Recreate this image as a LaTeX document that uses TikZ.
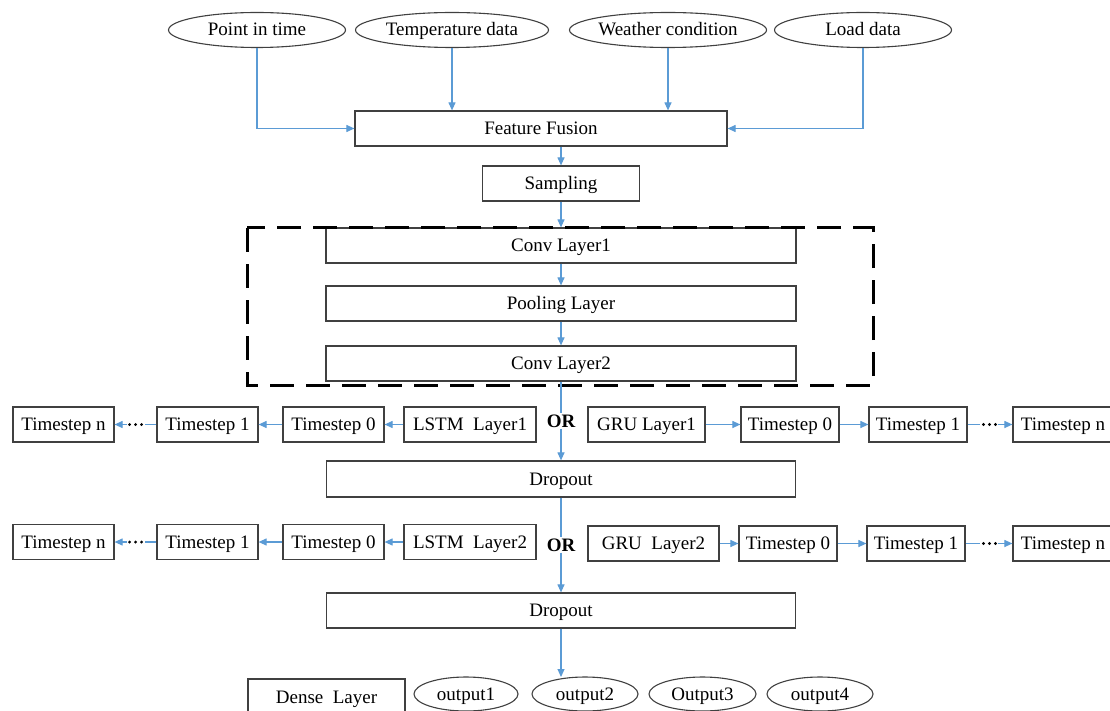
\documentclass[tikz,border=0pt]{standalone}
\usepackage{fontspec}
\setmainfont{Liberation Serif}
\usetikzlibrary{shapes.geometric,arrows.meta,calc}
\definecolor{conn}{RGB}{91,155,213}
\definecolor{edgec}{RGB}{64,64,64}
\begin{document}
\begin{tikzpicture}[x=1pt,y=-1pt,
  font=\fontsize{19}{22}\selectfont,
  bx/.style={draw=edgec, line width=1.2pt, rectangle, inner sep=0pt, minimum height=35pt, text=black, text height=15pt, text depth=3pt},
  el/.style={draw=edgec, line width=1.1pt, ellipse, inner sep=0pt, minimum height=35pt, text=black, text height=15pt, text depth=3pt},
  arr/.style={draw=conn, line width=1.1pt, -{Triangle[length=8pt,width=7pt]}},
  ln/.style={draw=conn, line width=1.1pt},
  ortext/.style={font=\fontsize{19}{22}\selectfont\bfseries, inner sep=1pt},
  dots/.style={fill=black},
  dashbox/.style={draw=black, line width=3pt, dash pattern=on 24pt off 12pt}]
\clip (0,0) rectangle (1110,711);
\fill[white] (0,0) rectangle (1110,711);

% inputs
\node[el, minimum width=177pt] (pit) at (257,30) {Point in time};
\node[el, minimum width=193pt] (tmp) at (452,30) {Temperature data};
\node[el, minimum width=195pt] (wea) at (668,30) {Weather condition};
\node[el, minimum width=177pt] (lod) at (863,30) {Load data};

\node[bx, minimum width=372pt] (ff) at (541,128.5) {Feature Fusion};
\node[bx, minimum width=157pt] (smp) at (561,183.5) {Sampling};

% CNN block
\node[bx, minimum width=470pt] (c1) at (561,245.5) {Conv Layer1};
\node[bx, minimum width=470pt] (pl) at (561,303.5) {Pooling Layer};
\node[bx, minimum width=470pt] (c2) at (561,363.5) {Conv Layer2};
\draw[dashbox] (247,228) rectangle (873,385);

% row 1
\node[bx, minimum width=101pt] (ltn) at (63.5,424.5) {Timestep n};
\node[bx, minimum width=101pt] (lt1) at (207.5,424.5) {Timestep 1};
\node[bx, minimum width=101pt] (lt0) at (333.5,424.5) {Timestep 0};
\node[bx, minimum width=132pt] (lstm1) at (470,424.5) {LSTM~ Layer1};
\node[ortext] (or1) at (561,421) {OR};
\node[bx, minimum width=117pt] (gru1) at (646.5,424.5) {GRU Layer1};
\node[bx, minimum width=98pt] (rt0) at (790,424.5) {Timestep 0};
\node[bx, minimum width=98pt] (rt1) at (918,424.5) {Timestep 1};
\node[bx, minimum width=100pt] (rtn) at (1063,424.5) {Timestep n};

\node[bx, minimum width=469pt, minimum height=36pt] (dr1) at (561,479) {Dropout};

% row 2
\node[bx, minimum width=101pt] (ltnb) at (63.5,542) {Timestep n};
\node[bx, minimum width=101pt] (lt1b) at (207.5,542) {Timestep 1};
\node[bx, minimum width=101pt] (lt0b) at (333.5,542) {Timestep 0};
\node[bx, minimum width=132pt] (lstm2) at (470,542) {LSTM~ Layer2};
\node[ortext] (or2) at (561,545) {OR};
\node[bx, minimum width=131pt] (gru2) at (653.5,543.5) {GRU~ Layer2};
\node[bx, minimum width=98pt] (rt0b) at (788,543.5) {Timestep 0};
\node[bx, minimum width=98pt] (rt1b) at (916,543.5) {Timestep 1};
\node[bx, minimum width=100pt] (rtnb) at (1063,543.5) {Timestep n};

\node[bx, minimum width=469pt] (dr2) at (561,610.5) {Dropout};

% outputs
\node[bx, minimum width=157pt, minimum height=36pt] (dense) at (326.5,697) {Dense~ Layer};
\node[el, minimum width=104pt, minimum height=34pt] (o1) at (466,694) {output1};
\node[el, minimum width=106pt, minimum height=34pt] (o2) at (585,694) {output2};
\node[el, minimum width=107pt, minimum height=34pt] (o3) at (702.5,694) {Output3};
\node[el, minimum width=106pt, minimum height=34pt] (o4) at (820,694) {output4};
\coordinate (oend) at (561,677);

% connectors: inputs
\draw[arr] (pit.south) |- (ff.west);
\draw[arr] (tmp.south) -- (tmp.south |- ff.north);
\draw[arr] (wea.south) -- (wea.south |- ff.north);
\draw[arr] (lod.south) |- (ff.east);
\draw[arr] (smp.north |- ff.south) -- (smp.north);
\draw[arr] (smp.south) -- (c1.north);
\draw[arr] (c1.south) -- (pl.north);
\draw[arr] (pl.south) -- (c2.north);
\draw[ln] (c2.south) -- (or1.north);
\draw[arr] (or1.south) -- (dr1.north);
\draw[ln] (dr1.south) -- (or2.north);
\draw[arr] (or2.south) -- (dr2.north);
\draw[arr] (dr2.south) -- (oend);

% row 1 chains
\draw[arr] (lstm1.west) -- (lt0.east);
\draw[arr] (lt0.west) -- (lt1.east);
\draw[arr] (lt1.west) -- (ltn.east);
\draw[arr] (gru1.east) -- (rt0.west);
\draw[arr] (rt0.east) -- (rt1.west);
\draw[arr] (rt1.east) -- (rtn.west);
% row 2 chains
\draw[arr] (lstm2.west) -- (lt0b.east);
\draw[arr] (lt0b.west) -- (lt1b.east);
\draw[arr] (lt1b.west) -- (ltnb.east);
\draw[arr] (gru2.east) -- (rt0b.west);
\draw[arr] (rt0b.east) -- (rt1b.west);
\draw[arr] (rt1b.east) -- (rtnb.west);

% ellipsis dots on the last links
\foreach \n in {ltn,ltnb}{
  \fill[white] ($(\n.east)+(12,-3)$) rectangle ($(\n.east)+(30,3)$);
  \foreach \d in {15,21,27} \fill[dots] ($(\n.east)+(\d,0)$) circle (1.6);
}
\foreach \n in {rtn,rtnb}{
  \fill[white] ($(\n.west)+(-32,-3)$) rectangle ($(\n.west)+(-14,3)$);
  \foreach \d in {29,23,17} \fill[dots] ($(\n.west)+(-\d,0)$) circle (1.6);
}
\end{tikzpicture}
\end{document}
